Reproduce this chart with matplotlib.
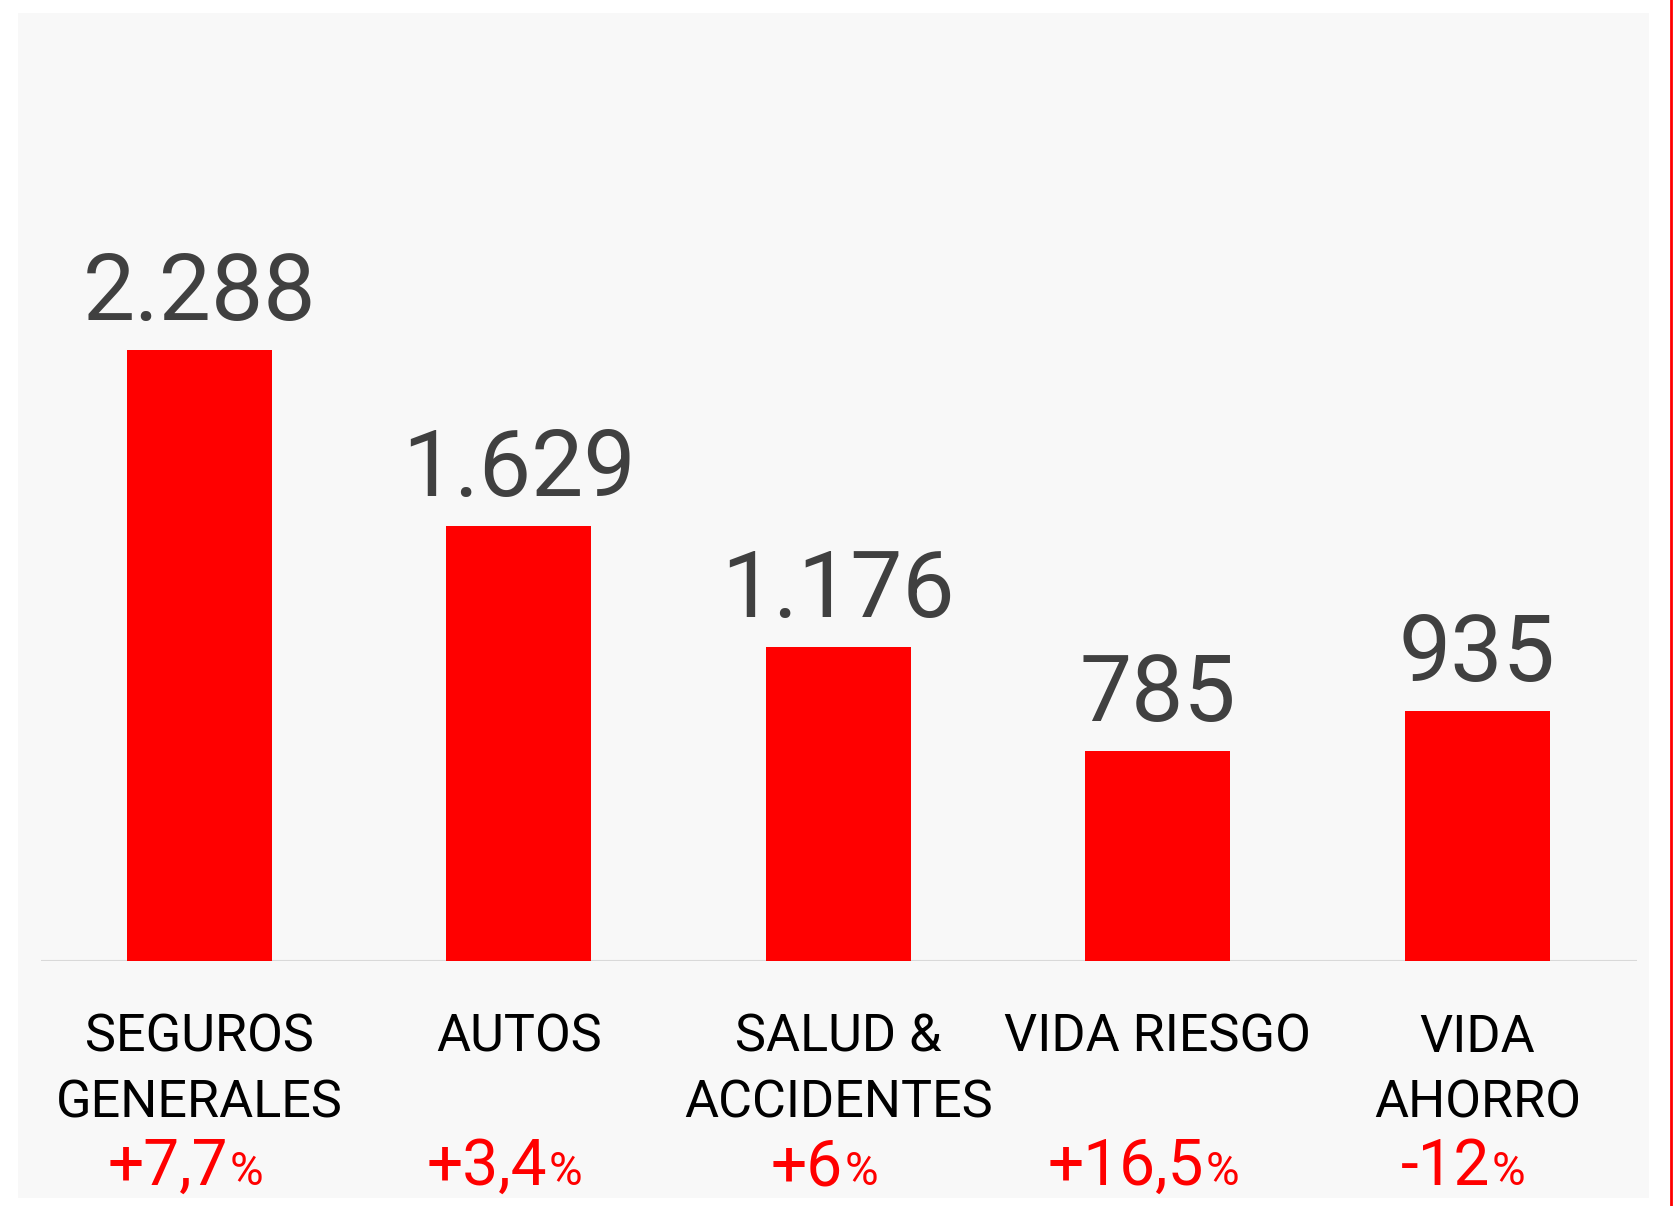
import matplotlib
matplotlib.use("Agg")
import matplotlib.pyplot as plt
from matplotlib.patches import Rectangle
from matplotlib.lines import Line2D

categories = ["SEGUROS\nGENERALES", "AUTOS", "SALUD &\nACCIDENTES", "VIDA RIESGO", "VIDA\nAHORRO"]
values = [2288, 1629, 1176, 785, 935]
value_labels = ["2.288", "1.629", "1.176", "785", "935"]
growth_labels = ["+7,7", "+3,4", "+6", "+16,5", "-12"]

W, H = 1674, 1206
plt.rcParams['font.family'] = ['Roboto', 'DejaVu Sans']
fig = plt.figure(figsize=(W / 100, H / 100), dpi=100)
fig.patch.set_facecolor("white")

def fx(x):
    return x / W

def fy(y):
    return 1 - y / H

# panel background
fig.patches.append(Rectangle((fx(18), fy(1198)), fx(1649) - fx(18), fy(13) - fy(1198),
                             transform=fig.transFigure, facecolor="#f8f8f8", edgecolor="none", zorder=-5))
# red vertical line at right edge
fig.lines.append(Line2D([fx(1671), fx(1671)], [0, 1], transform=fig.transFigure,
                        color="#ff0000", lw=2, zorder=-4))

left, right, base, top = 41, 1637, 961, 13
ax = fig.add_axes([fx(left), fy(base), fx(right) - fx(left), fy(top) - fy(base)], zorder=2)
ax.set_facecolor("none")
ax.set_xlim(-0.495, 4.5)
ax.set_ylim(0, 3550)
ax.axis("off")

x = list(range(len(values)))
ax.bar(x, values, width=0.454, color="#ff0000", zorder=2)
ax.axhline(0, color="#d9d9d9", lw=1.5, zorder=1)

for i, (v, lab) in enumerate(zip(values, value_labels)):
    ax.annotate(lab, (i, v), xytext=(0, 30), textcoords="offset pixels",
                ha="center", va="baseline", fontsize=67, color="#404040")

# category labels and growth
fig.canvas.draw()
renderer = fig.canvas.get_renderer()
for i, (cat, g) in enumerate(zip(categories, growth_labels)):
    cx = ax.transData.transform((i, 0))[0]
    for j, line in enumerate(cat.split("\n")):
        fig.text(fx(cx), fy(1052 + 65 * j), line, ha="center", va="baseline",
                 fontsize=37.5, color="black")
    t1 = fig.text(0, fy(1185), g, ha="left", va="baseline", fontsize=46, color="#ff0000")
    t2 = fig.text(0, fy(1185), "%", ha="left", va="baseline", fontsize=33, color="#ff0000")
    w1 = t1.get_window_extent(renderer).width
    w2 = t2.get_window_extent(renderer).width
    total = w1 + w2 + 2
    start = cx - 14 - total / 2
    t1.set_x(fx(start))
    t2.set_x(fx(start + w1 + 2))

fig.savefig("out.png", dpi=100, facecolor="white")
